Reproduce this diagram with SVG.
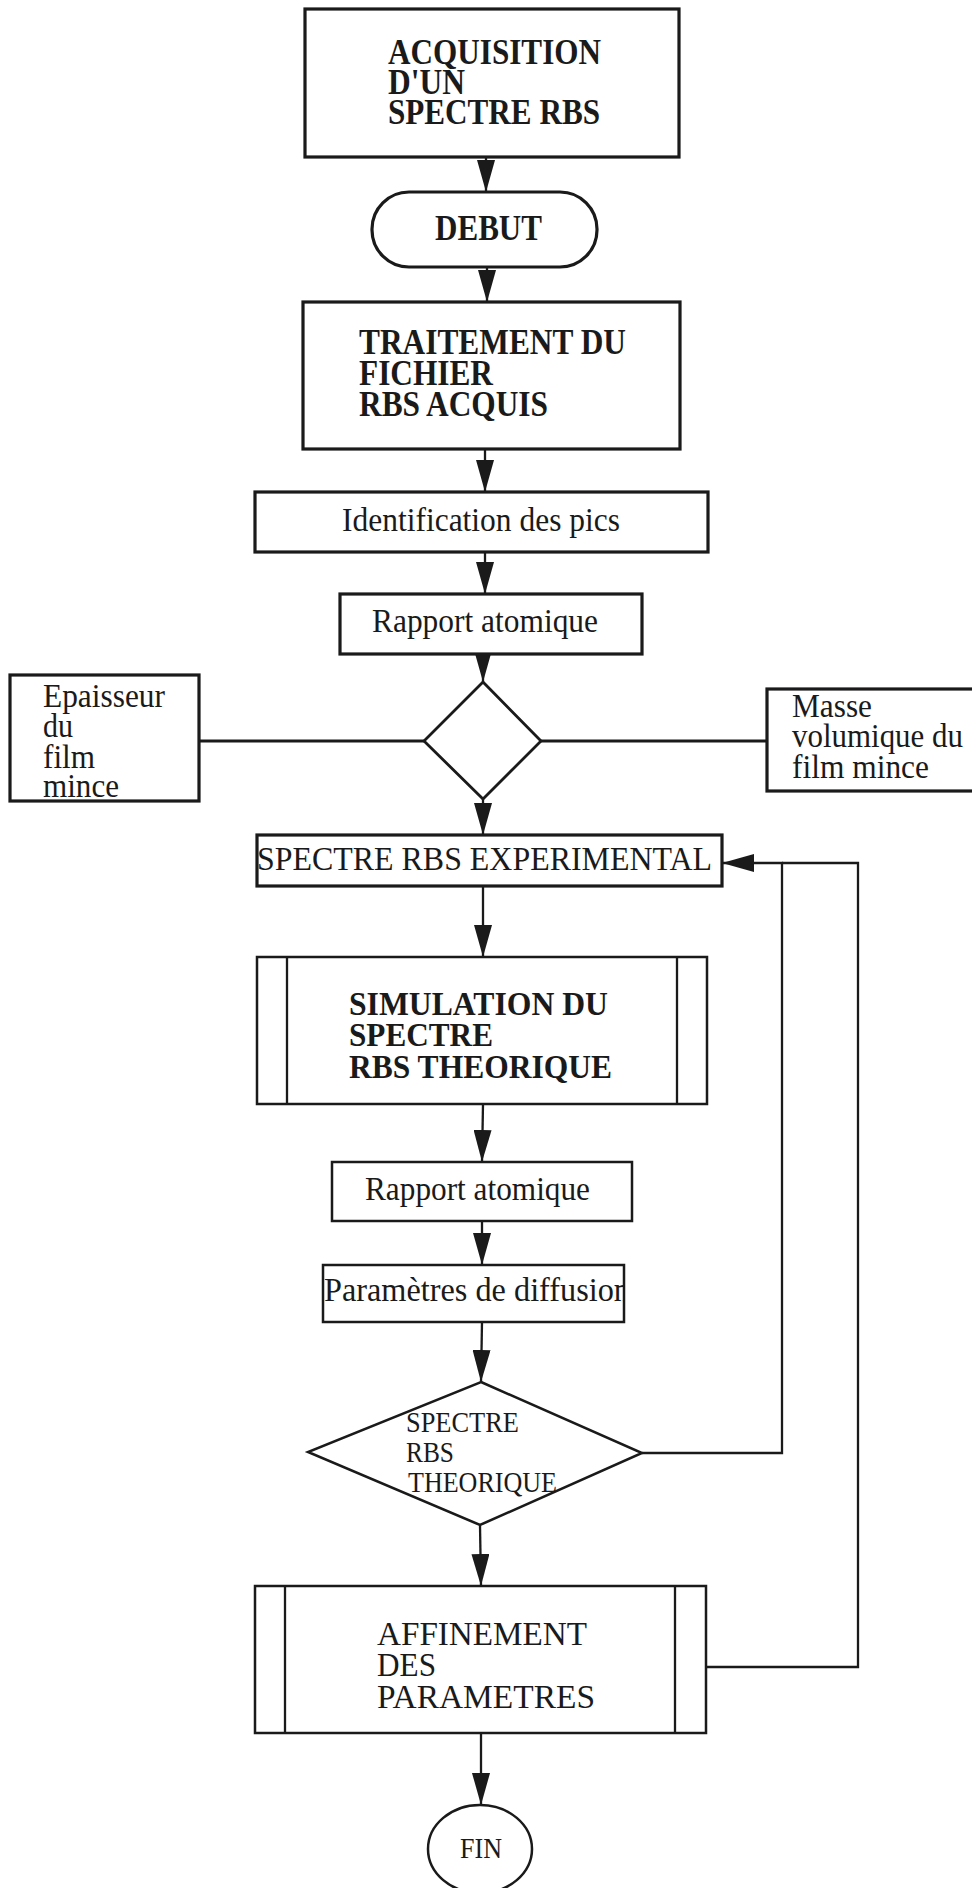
<svg xmlns="http://www.w3.org/2000/svg" width="972" height="1888" viewBox="0 0 972 1888">
<style>
.bg{fill:#fff}
.box{fill:#fff;stroke:#1a1a1a;stroke-width:2.5}
.thick{stroke-width:3.2}
.ln{fill:none;stroke:#1a1a1a;stroke-width:2.3}
.tb{font-family:"Liberation Serif","Times New Roman",serif;font-weight:bold;font-size:36px;fill:#1a1a1a}
.tr{font-family:"Liberation Serif","Times New Roman",serif;font-size:34px;fill:#1a1a1a}
.ts{font-family:"Liberation Serif","Times New Roman",serif;font-size:29px;fill:#1a1a1a}
</style>
<defs>
<marker id="ah" viewBox="0 0 32 18" markerWidth="32" markerHeight="18" refX="32" refY="9" orient="auto" markerUnits="userSpaceOnUse">
<path d="M0,0 L32,9 L0,18 z" fill="#1a1a1a"/>
</marker>
<clipPath id="clipParam"><rect x="323" y="1265" width="300" height="57"/></clipPath>
</defs>
<rect class="bg" x="0" y="0" width="972" height="1888"/>

<g id="connectors">
<line class="ln" x1="486" y1="157" x2="486" y2="192" marker-end="url(#ah)"/>
<line class="ln" x1="487" y1="267" x2="487" y2="302" marker-end="url(#ah)"/>
<line class="ln" x1="485" y1="449" x2="485" y2="492" marker-end="url(#ah)"/>
<line class="ln" x1="485" y1="552" x2="485" y2="594" marker-end="url(#ah)"/>
<line class="ln" x1="483" y1="654" x2="483" y2="682" marker-end="url(#ah)"/>
<line class="ln" x1="483" y1="798" x2="483" y2="835" marker-end="url(#ah)"/>
<line class="ln" x1="199" y1="741" x2="424" y2="741" style="stroke-width:2.8"/>
<line class="ln" x1="541" y1="741" x2="767" y2="741" style="stroke-width:2.8"/>
<line class="ln" x1="483" y1="886" x2="483" y2="957" marker-end="url(#ah)"/>
<line class="ln" x1="483" y1="1104" x2="482" y2="1162" marker-end="url(#ah)"/>
<line class="ln" x1="482" y1="1221" x2="482" y2="1265" marker-end="url(#ah)"/>
<line class="ln" x1="482" y1="1322" x2="481" y2="1382" marker-end="url(#ah)"/>
<line class="ln" x1="480" y1="1525" x2="481" y2="1586" marker-end="url(#ah)"/>
<line class="ln" x1="481" y1="1733" x2="481" y2="1805" marker-end="url(#ah)"/>
<polyline class="ln" points="642,1453 782,1453 782,863 722,863" marker-end="url(#ah)"/>
<polyline class="ln" points="706,1667 858,1667 858,863 782,863"/>
</g>

<g id="acquisition">
<rect class="box thick" x="305" y="9" width="374" height="148"/>
<text class="tb" x="388" y="64" textLength="213" lengthAdjust="spacingAndGlyphs">ACQUISITION</text>
<text class="tb" x="388" y="94" textLength="77" lengthAdjust="spacingAndGlyphs">D'UN</text>
<text class="tb" x="388" y="124" textLength="212" lengthAdjust="spacingAndGlyphs">SPECTRE RBS</text>
</g>

<g id="debut">
<rect class="box thick" x="372" y="192" width="225" height="75" rx="37" ry="37"/>
<text class="tb" x="435" y="240" textLength="107" lengthAdjust="spacingAndGlyphs">DEBUT</text>
</g>

<g id="traitement">
<rect class="box thick" x="303" y="302" width="377" height="147"/>
<text class="tb" x="359" y="354" textLength="267" lengthAdjust="spacingAndGlyphs">TRAITEMENT DU</text>
<text class="tb" x="359" y="385" textLength="134" lengthAdjust="spacingAndGlyphs">FICHIER</text>
<text class="tb" x="359" y="416" textLength="189" lengthAdjust="spacingAndGlyphs">RBS ACQUIS</text>
</g>

<g id="identification">
<rect class="box thick" x="255" y="492" width="453" height="60"/>
<text class="tr" x="342" y="531" textLength="278" lengthAdjust="spacingAndGlyphs">Identification des pics</text>
</g>

<g id="rapport1">
<rect class="box thick" x="340" y="594" width="302" height="60"/>
<text class="tr" x="372" y="632" textLength="226" lengthAdjust="spacingAndGlyphs">Rapport atomique</text>
</g>

<g id="decision1">
<polygon class="box" points="483,682 541,741 483,799 424,741" style="stroke-width:2.8"/>
</g>

<g id="epaisseur">
<rect class="box thick" x="10" y="675" width="189" height="126"/>
<text class="tr" x="43" y="707" textLength="122" lengthAdjust="spacingAndGlyphs">Epaisseur</text>
<text class="tr" x="43" y="737" textLength="30" lengthAdjust="spacingAndGlyphs">du</text>
<text class="tr" x="43" y="768" textLength="52" lengthAdjust="spacingAndGlyphs">film</text>
<text class="tr" x="43" y="797" textLength="76" lengthAdjust="spacingAndGlyphs">mince</text>
</g>

<g id="masse">
<rect class="box thick" x="767" y="689" width="207" height="102"/>
<text class="tr" x="792" y="717" textLength="80" lengthAdjust="spacingAndGlyphs">Masse</text>
<text class="tr" x="792" y="747" textLength="171" lengthAdjust="spacingAndGlyphs">volumique du</text>
<text class="tr" x="792" y="778" textLength="137" lengthAdjust="spacingAndGlyphs">film mince</text>
</g>

<g id="experimental">
<rect class="box thick" x="257" y="835" width="465" height="51"/>
<text class="tr" x="257" y="870" textLength="455" lengthAdjust="spacingAndGlyphs">SPECTRE RBS EXPERIMENTAL</text>
</g>

<g id="simulation">
<rect class="box" x="257" y="957" width="450" height="147"/>
<line class="ln" x1="287" y1="957" x2="287" y2="1104"/>
<line class="ln" x1="677" y1="957" x2="677" y2="1104"/>
<text class="tb" x="349" y="1015" style="font-size:34px" textLength="259" lengthAdjust="spacingAndGlyphs">SIMULATION DU</text>
<text class="tb" x="349" y="1046" style="font-size:34px" textLength="144" lengthAdjust="spacingAndGlyphs">SPECTRE</text>
<text class="tb" x="349" y="1078" style="font-size:34px" textLength="263" lengthAdjust="spacingAndGlyphs">RBS THEORIQUE</text>
</g>

<g id="rapport2">
<rect class="box" x="332" y="1162" width="300" height="59"/>
<text class="tr" x="365" y="1200" textLength="225" lengthAdjust="spacingAndGlyphs">Rapport atomique</text>
</g>

<g id="parametres">
<rect class="box" x="323" y="1265" width="301" height="57"/>
<text class="tr" x="324" y="1301" textLength="306" lengthAdjust="spacingAndGlyphs" clip-path="url(#clipParam)">Paramètres de diffusion</text>
</g>

<g id="decision2">
<polygon class="box" points="481,1382 642,1453 480,1525 308,1452"/>
<text class="ts" x="406" y="1432" textLength="113" lengthAdjust="spacingAndGlyphs">SPECTRE</text>
<text class="ts" x="406" y="1462" textLength="48" lengthAdjust="spacingAndGlyphs">RBS</text>
<text class="ts" x="408" y="1492" textLength="149" lengthAdjust="spacingAndGlyphs">THEORIQUE</text>
</g>

<g id="affinement">
<rect class="box" x="255" y="1586" width="451" height="147"/>
<line class="ln" x1="285" y1="1586" x2="285" y2="1733"/>
<line class="ln" x1="675" y1="1586" x2="675" y2="1733"/>
<text class="tr" x="377" y="1645" textLength="210" lengthAdjust="spacingAndGlyphs">AFFINEMENT</text>
<text class="tr" x="377" y="1676" textLength="59" lengthAdjust="spacingAndGlyphs">DES</text>
<text class="tr" x="377" y="1708" textLength="218" lengthAdjust="spacingAndGlyphs">PARAMETRES</text>
</g>

<g id="fin">
<ellipse class="box" cx="480" cy="1849" rx="52" ry="44"/>
<text class="ts" x="460" y="1858" textLength="42" lengthAdjust="spacingAndGlyphs">FIN</text>
</g>
</svg>
